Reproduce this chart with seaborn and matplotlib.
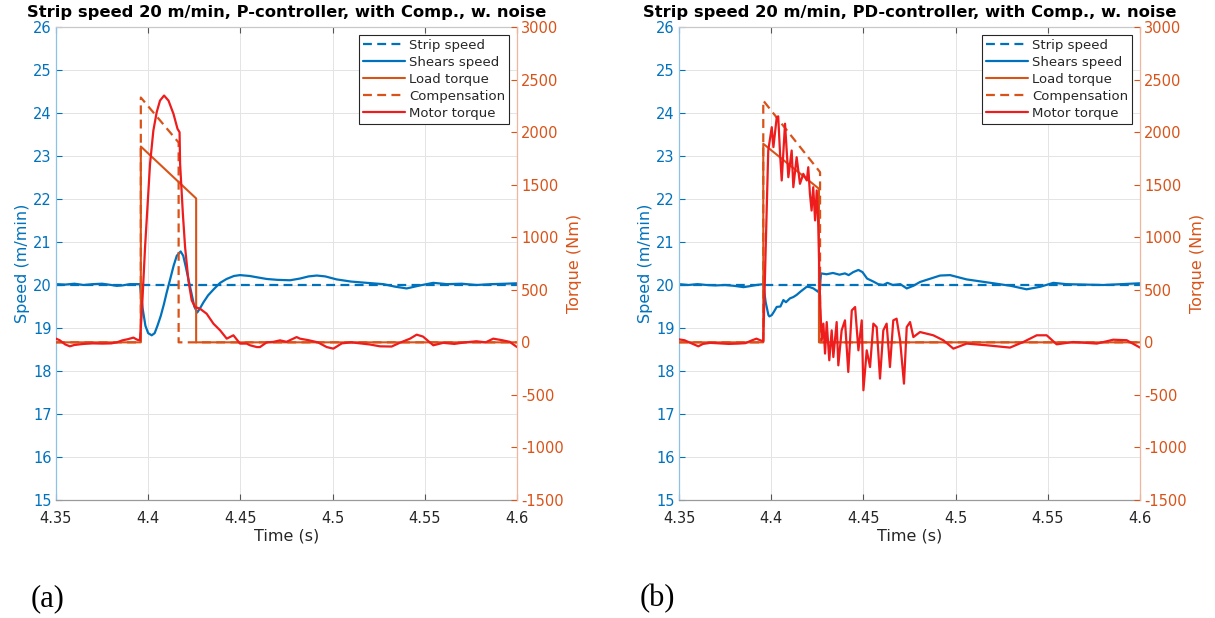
import numpy as np
import pandas as pd
import matplotlib
matplotlib.use("Agg")
import matplotlib.pyplot as plt
import seaborn as sns

# ---------------- data ----------------
strip_t = [4.35, 4.6]
strip_v = [20.0, 20.0]

# Panel (a): P-controller
shears_a_t = [4.35, 4.355, 4.36, 4.365, 4.37, 4.375, 4.38, 4.3829, 4.386, 4.39, 4.3955,
              4.397, 4.3985, 4.400, 4.4019, 4.4035, 4.405, 4.4068, 4.4085, 4.410, 4.412,
              4.4138, 4.4155, 4.4176, 4.419, 4.4205, 4.422, 4.4235, 4.425, 4.4266, 4.428,
              4.430, 4.4325, 4.4355, 4.439, 4.4425, 4.4465, 4.4498, 4.455, 4.4589, 4.4643,
              4.470, 4.4769, 4.4823, 4.487, 4.4914, 4.496, 4.5022, 4.51, 4.5185, 4.5275,
              4.534, 4.5402, 4.5474, 4.5546, 4.562, 4.57, 4.578, 4.586, 4.594, 4.6]
shears_a_v = [20.02, 20.01, 20.03, 20.0, 20.02, 20.03, 20.0, 19.98, 19.99, 20.02, 20.02,
              19.45, 19.05, 18.88, 18.83, 18.88, 19.05, 19.28, 19.55, 19.82, 20.15,
              20.45, 20.68, 20.78, 20.68, 20.4, 20.1, 19.8, 19.5, 19.36, 19.45,
              19.6, 19.76, 19.9, 20.05, 20.14, 20.21, 20.23, 20.21, 20.18, 20.14,
              20.12, 20.11, 20.15, 20.2, 20.22, 20.2, 20.13, 20.08, 20.05, 20.02,
              19.96, 19.92, 19.99, 20.05, 20.02, 20.03, 20.0, 20.02, 20.03, 20.04]
load_a_t = [4.35, 4.396, 4.396, 4.426, 4.426, 4.6]
load_a_v = [0, 0, 1863, 1369, 0, 0]
comp_a_t = [4.35, 4.396, 4.396, 4.4165, 4.4165, 4.6]
comp_a_v = [0, 0, 2329, 1901, 0, 0]
motor_a_t = [4.35, 4.352, 4.355, 4.3575, 4.36, 4.365, 4.37, 4.375, 4.38, 4.383, 4.386,
             4.389, 4.392, 4.394, 4.3955, 4.3965, 4.3983, 4.401, 4.4028, 4.4046, 4.4064,
             4.4086, 4.411, 4.4137, 4.4159, 4.417, 4.4173, 4.4188, 4.42, 4.4218, 4.4236,
             4.4254, 4.4281, 4.4317, 4.4354, 4.439, 4.4426, 4.4462, 4.4498, 4.4534, 4.4552,
             4.4589, 4.4606, 4.4643, 4.4678, 4.4715, 4.475, 4.4805, 4.4823, 4.487, 4.492,
             4.4968, 4.5004, 4.505, 4.51, 4.515, 4.52, 4.5257, 4.532, 4.537, 4.542,
             4.5456, 4.549, 4.5546, 4.56, 4.566, 4.572, 4.578, 4.583, 4.5871, 4.592,
             4.596, 4.6]
motor_a_v = [35, 20, -20, -38, -25, -15, -10, -12, -10, 0, 19,
             30, 45, 25, 19, 272, 906, 1699, 2015, 2189, 2300,
             2348, 2300, 2174, 2031, 1999, 1699, 1223, 906, 589, 399,
             336, 320, 272, 177, 114, 35, 67, -12, -12, -28,
             -45, -45, 0, 4, 19, 5, 50, 35, 20, 0,
             -45, -60, -10, 0, -10, -20, -38, -40, 0, 35,
             73, 55, -28, -5, -15, 0, 10, 0, 35, 20,
             5, -45]

# Panel (b): PD-controller
shears_b_t = [4.35, 4.355, 4.36, 4.365, 4.37, 4.375, 4.38, 4.385, 4.388, 4.392, 4.3957,
              4.397, 4.3985, 4.399, 4.4003, 4.4015, 4.403, 4.405, 4.4066, 4.408, 4.4102,
              4.412, 4.4138, 4.416, 4.4193, 4.421, 4.4229, 4.4255, 4.4265, 4.427, 4.43,
              4.4335, 4.437, 4.44, 4.442, 4.4445, 4.4473, 4.4495, 4.452, 4.4554, 4.458,
              4.4608, 4.463, 4.466, 4.47, 4.4735, 4.477, 4.4807, 4.4843, 4.4916, 4.497,
              4.506, 4.5205, 4.53, 4.5385, 4.546, 4.553, 4.56, 4.57, 4.58, 4.59, 4.6]
shears_b_v = [20.02, 20.0, 20.02, 20.0, 19.99, 20.0, 19.98, 19.95, 19.97, 20.0, 20.02,
              19.6, 19.3, 19.27, 19.3, 19.38, 19.49, 19.5, 19.65, 19.6, 19.69,
              19.72, 19.77, 19.85, 19.96, 19.95, 19.92, 19.84, 20.0, 20.27, 20.25,
              20.28, 20.24, 20.27, 20.23, 20.3, 20.35, 20.3, 20.15, 20.08, 20.02,
              20.0, 20.05, 20.0, 20.02, 19.92, 19.98, 20.07, 20.12, 20.22, 20.23,
              20.13, 20.04, 19.98, 19.9, 19.96, 20.05, 20.02, 20.01, 20.0, 20.02, 20.04]
load_b_t = [4.35, 4.3957, 4.3957, 4.4259, 4.4259, 4.6]
load_b_v = [0, 0, 1889, 1461, 0, 0]
comp_b_t = [4.35, 4.3957, 4.3957, 4.4265, 4.4265, 4.6]
comp_b_v = [0, 0, 2300, 1619, 0, 0]
motor_b_t = [4.35, 4.353, 4.3555, 4.3605, 4.363, 4.367, 4.372, 4.377, 4.382, 4.386,
             4.389, 4.392, 4.394, 4.3957, 4.3984, 4.4003, 4.4012, 4.403, 4.4038, 4.4048,
             4.4057, 4.4075, 4.4093, 4.4111, 4.412, 4.4138, 4.4156, 4.4174, 4.4193, 4.4201,
             4.421, 4.4219, 4.4228, 4.4238, 4.4247, 4.4255, 4.4265, 4.4274, 4.4283, 4.4292,
             4.4301, 4.4315, 4.4328, 4.4337, 4.4355, 4.4364, 4.4382, 4.44, 4.4418, 4.4437,
             4.4455, 4.4473, 4.4491, 4.45, 4.4518, 4.4536, 4.4554, 4.4572, 4.459, 4.4608,
             4.4626, 4.4644, 4.4662, 4.468, 4.4699, 4.472, 4.4735, 4.4753, 4.4771, 4.4807,
             4.4879, 4.4934, 4.4988, 4.506, 4.5168, 4.5295, 4.5367, 4.544, 4.5494, 4.5548,
             4.5638, 4.5766, 4.5855, 4.5928, 4.6]
motor_b_v = [28, 20, 0, -38, -15, -5, -10, -15, -12, -8,
             15, 35, 20, 10, 1825, 2047, 1857, 2142, 2150, 1796,
             1540, 2080, 1571, 1825, 1476, 1761, 1508, 1603, 1540, 1666,
             1413, 1254, 1476, 1160, 1445, 1128, 400, 20, 178, -107,
             193, -171, 114, -140, 193, -219, 114, 209, -282, 304,
             336, -76, 209, -456, -76, -235, 178, 145, -345, 114,
             178, -235, 209, 225, 19, -393, 145, 193, 50, 98,
             67, 19, -60, -12, -28, -50, 3, 67, 67, -19,
             3, -12, 25, 20, -50]

xticks = [4.35, 4.4, 4.45, 4.5, 4.55, 4.6]
xtick_labels = ["4.35", "4.4", "4.45", "4.5", "4.55", "4.6"]
speed_ticks = list(range(15, 27))
torque_ticks = list(range(-1500, 3001, 500))

titles = ["Strip speed 20 m/min, P-controller, with Comp., w. noise",
          "Strip speed 20 m/min, PD-controller, with Comp., w. noise"]
panel_labels = ["(a)", "(b)"]

# ---------------- style ----------------
sns.set_style("white")
plt.rcParams["font.family"] = ["DejaVu Sans"]

BLUE = "#0072BD"
ORANGE = "#D95319"
RED = "#EE1C1C"
DARK = "#262626"

fig = plt.figure(figsize=(12.15, 6.18), dpi=100)


def draw(rect, title, sh_t, sh_v, ld_t, ld_v, cp_t, cp_v, mt_t, mt_v, plabel, plx):
    ax = fig.add_axes(rect)
    ax2 = ax.twinx()
    ax.set_axisbelow(True)
    common = dict(estimator=None, sort=False, legend=True)
    sns.lineplot(x=strip_t, y=strip_v, ax=ax, color=BLUE, lw=1.6,
                 linestyle=(0, (4, 2.4)), label="Strip speed", **common)
    sns.lineplot(x=sh_t, y=sh_v, ax=ax, color=BLUE, lw=1.6, label="Shears speed", **common)
    sns.lineplot(x=ld_t, y=ld_v, ax=ax2, color=ORANGE, lw=1.5, label="Load torque", **common)
    sns.lineplot(x=cp_t, y=cp_v, ax=ax2, color=ORANGE, lw=1.6,
                 linestyle=(0, (4, 2.4)), label="Compensation", **common)
    sns.lineplot(x=mt_t, y=mt_v, ax=ax2, color=RED, lw=1.6, label="Motor torque", **common)

    ax.set_xlim(4.35, 4.6)
    ax.set_ylim(15, 26)
    ax2.set_ylim(-1500, 3000)
    ax.set_xticks(xticks)
    ax.set_xticklabels(xtick_labels)
    ax.set_yticks(speed_ticks)
    ax.set_yticklabels([str(v) for v in speed_ticks])
    ax2.set_yticks(torque_ticks)
    ax2.set_yticklabels([str(v) for v in torque_ticks])

    ax.grid(True, color="#E4E4E4", lw=0.7)
    ax.tick_params(axis="x", direction="in", top=True, bottom=True, length=4,
                   color="#555555", labelcolor=DARK, labelsize=10.5, pad=8)
    ax.tick_params(axis="y", direction="in", length=4, colors=BLUE, labelsize=10.5, pad=3)
    ax2.tick_params(axis="y", direction="in", length=4, colors=ORANGE, labelsize=10.5, pad=3)

    for s in ["top", "bottom", "left", "right"]:
        ax2.spines[s].set_visible(s == "right")
    ax.spines["right"].set_visible(False)
    ax.spines["left"].set_color("#8EC1E6")
    ax2.spines["right"].set_color("#F2B49A")
    ax.spines["bottom"].set_color("#9A9A9A")
    ax.spines["top"].set_color("#C8C8C8")
    for s in ax.spines.values():
        s.set_linewidth(0.9)
    ax2.spines["right"].set_linewidth(0.9)

    ax.set_xlabel("Time (s)", fontsize=11.5, color=DARK, labelpad=2)
    ax.set_ylabel("Speed (m/min)", fontsize=11.5, color=BLUE, labelpad=2)
    ax2.set_ylabel("Torque (Nm)", fontsize=11.5, color=ORANGE, labelpad=2)
    ax.set_title(title, fontsize=11.8, fontweight="bold", color="black", pad=7)

    h1, l1 = ax.get_legend_handles_labels()
    h2, l2 = ax2.get_legend_handles_labels()
    if ax.get_legend() is not None:
        ax.get_legend().remove()
    leg = ax2.legend(h1 + h2, l1 + l2, loc="upper right", fontsize=9.5, frameon=True,
                     fancybox=False, edgecolor=DARK, framealpha=1, handlelength=3.2,
                     handletextpad=0.3, labelspacing=0.3, borderpad=0.3,
                     borderaxespad=0.6)
    leg.get_frame().set_linewidth(0.8)
    for txt in leg.get_texts():
        txt.set_color(DARK)

    fig.text(plx, 0.032, plabel, fontsize=22, family=["Liberation Serif"],
             ha="center", va="center", color="black")


draw([56 / 1215, 118 / 618, 461 / 1215, 473 / 618], titles[0],
     shears_a_t, shears_a_v, load_a_t, load_a_v, comp_a_t, comp_a_v,
     motor_a_t, motor_a_v, panel_labels[0], 48 / 1215)
draw([679 / 1215, 118 / 618, 461 / 1215, 473 / 618], titles[1],
     shears_b_t, shears_b_v, load_b_t, load_b_v, comp_b_t, comp_b_v,
     motor_b_t, motor_b_v, panel_labels[1], 657 / 1215)

fig.savefig("out.png", dpi=100)
